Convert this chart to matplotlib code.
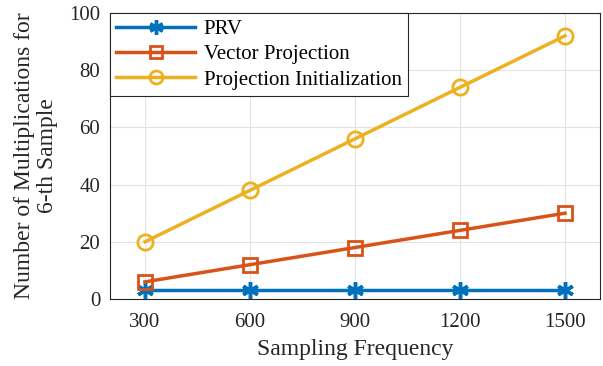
import matplotlib.pyplot as plt

freq = [300, 600, 900, 1200, 1500]
prv = [3, 3, 3, 3, 3]
vec_proj = [6, 12, 18, 24, 30]
proj_init = [20, 38, 56, 74, 92]

plt.rcParams['font.family'] = ['Liberation Serif', 'DejaVu Serif']

fig = plt.figure(figsize=(6.03, 3.66), dpi=100)
ax = fig.add_axes([110 / 603, 1 - 299 / 366, 490 / 603, 286 / 366])

# MATLAB-like asterisk: 6 arms, one vertical
ax.plot(freq, prv, color='#0072BD', lw=2.5, marker=(6, 2, 0), ms=12, mew=2.5,
        label='PRV')
ax.plot(freq, vec_proj, color='#D95319', lw=2.5, marker='s', ms=10,
        mfc='none', mew=2, label='Vector Projection')
ax.plot(freq, proj_init, color='#EDB120', lw=2.5, marker='o', ms=11,
        mfc='none', mew=2, label='Projection Initialization')

ax.set_xlim(200, 1600)
ax.set_ylim(0, 100)
ax.set_xticks(freq)
ax.set_yticks([0, 20, 40, 60, 80, 100])
ax.grid(True, color='#e3e3e3', lw=0.8)
ax.set_axisbelow(True)
ax.tick_params(direction='in', length=0, labelsize=15, colors='#262626')
ax.tick_params(axis='x', pad=10)
ax.tick_params(axis='y', pad=7)
for s in ax.spines.values():
    s.set_color('#262626')
    s.set_linewidth(0.8)

ax.set_xlabel('Sampling Frequency', fontsize=17, color='#262626', labelpad=5)
ax.set_ylabel('Number of Multiplications for\n6-th Sample', fontsize=17,
              color='#262626', linespacing=1.1, labelpad=8)

leg = ax.legend(loc='upper left', fontsize=15, frameon=True, fancybox=False,
                edgecolor='#262626', framealpha=1, borderaxespad=0,
                handlelength=3.8, handletextpad=0.4, borderpad=0.3,
                labelspacing=0.28, markerscale=0.85)
leg.get_frame().set_linewidth(0.8)

fig.savefig('out.png', dpi=100)
